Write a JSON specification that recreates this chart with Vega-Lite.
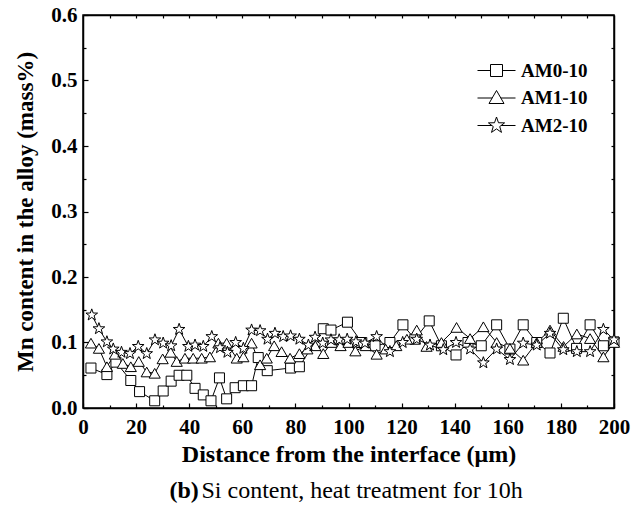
{
  "$schema": "https://vega.github.io/schema/vega-lite/v6.json",
  "width": 531,
  "height": 393,
  "autosize": {"type": "none"},
  "padding": {"left": 83, "top": 15, "right": 20, "bottom": 98},
  "background": "white",
  "config": {
    "view": {"stroke": "black", "strokeWidth": 1.5},
    "font": "Liberation Serif",
    "axis": {"grid": false, "domainColor": "black", "tickColor": "black", "labelColor": "black", "titleColor": "black", "domainWidth": 1.5, "tickWidth": 1.2}
  },
  "datasets": {
    "pts": [
      {"series": "AM0-10", "x": 3, "y": 0.061},
      {"series": "AM0-10", "x": 9, "y": 0.051},
      {"series": "AM0-10", "x": 12.4, "y": 0.07},
      {"series": "AM0-10", "x": 18, "y": 0.042},
      {"series": "AM0-10", "x": 21.3, "y": 0.025},
      {"series": "AM0-10", "x": 27, "y": 0.011},
      {"series": "AM0-10", "x": 30.2, "y": 0.026},
      {"series": "AM0-10", "x": 33.2, "y": 0.041},
      {"series": "AM0-10", "x": 36.2, "y": 0.05},
      {"series": "AM0-10", "x": 39.1, "y": 0.05},
      {"series": "AM0-10", "x": 42.2, "y": 0.03},
      {"series": "AM0-10", "x": 45.3, "y": 0.02},
      {"series": "AM0-10", "x": 48.2, "y": 0.011},
      {"series": "AM0-10", "x": 51.4, "y": 0.046},
      {"series": "AM0-10", "x": 54.1, "y": 0.014},
      {"series": "AM0-10", "x": 57.3, "y": 0.031},
      {"series": "AM0-10", "x": 60.4, "y": 0.034},
      {"series": "AM0-10", "x": 63.5, "y": 0.034},
      {"series": "AM0-10", "x": 66, "y": 0.077},
      {"series": "AM0-10", "x": 69.4, "y": 0.057},
      {"series": "AM0-10", "x": 78.2, "y": 0.061},
      {"series": "AM0-10", "x": 81.5, "y": 0.063},
      {"series": "AM0-10", "x": 90.5, "y": 0.121},
      {"series": "AM0-10", "x": 93.4, "y": 0.119},
      {"series": "AM0-10", "x": 99.6, "y": 0.131},
      {"series": "AM0-10", "x": 105, "y": 0.1},
      {"series": "AM0-10", "x": 110, "y": 0.095},
      {"series": "AM0-10", "x": 115.6, "y": 0.1},
      {"series": "AM0-10", "x": 120.5, "y": 0.127},
      {"series": "AM0-10", "x": 125, "y": 0.105},
      {"series": "AM0-10", "x": 130.4, "y": 0.133},
      {"series": "AM0-10", "x": 135, "y": 0.095},
      {"series": "AM0-10", "x": 140.5, "y": 0.081},
      {"series": "AM0-10", "x": 145, "y": 0.1},
      {"series": "AM0-10", "x": 150, "y": 0.095},
      {"series": "AM0-10", "x": 155.8, "y": 0.127},
      {"series": "AM0-10", "x": 160.8, "y": 0.09},
      {"series": "AM0-10", "x": 165.8, "y": 0.127},
      {"series": "AM0-10", "x": 170.9, "y": 0.1},
      {"series": "AM0-10", "x": 175.9, "y": 0.084},
      {"series": "AM0-10", "x": 180.9, "y": 0.137},
      {"series": "AM0-10", "x": 185.9, "y": 0.091},
      {"series": "AM0-10", "x": 191, "y": 0.127},
      {"series": "AM0-10", "x": 196, "y": 0.095},
      {"series": "AM0-10", "x": 200, "y": 0.101},
      {"series": "AM1-10", "x": 3, "y": 0.099},
      {"series": "AM1-10", "x": 6, "y": 0.091},
      {"series": "AM1-10", "x": 9, "y": 0.063},
      {"series": "AM1-10", "x": 12, "y": 0.082},
      {"series": "AM1-10", "x": 15, "y": 0.068},
      {"series": "AM1-10", "x": 18, "y": 0.063},
      {"series": "AM1-10", "x": 21, "y": 0.071},
      {"series": "AM1-10", "x": 24, "y": 0.055},
      {"series": "AM1-10", "x": 27, "y": 0.053},
      {"series": "AM1-10", "x": 30, "y": 0.075},
      {"series": "AM1-10", "x": 33, "y": 0.085},
      {"series": "AM1-10", "x": 35.3, "y": 0.071},
      {"series": "AM1-10", "x": 38.4, "y": 0.076},
      {"series": "AM1-10", "x": 41.5, "y": 0.076},
      {"series": "AM1-10", "x": 44.7, "y": 0.076},
      {"series": "AM1-10", "x": 47.8, "y": 0.078},
      {"series": "AM1-10", "x": 51, "y": 0.099},
      {"series": "AM1-10", "x": 54.1, "y": 0.099},
      {"series": "AM1-10", "x": 57.9, "y": 0.076},
      {"series": "AM1-10", "x": 60.4, "y": 0.078},
      {"series": "AM1-10", "x": 63.5, "y": 0.099},
      {"series": "AM1-10", "x": 66.7, "y": 0.066},
      {"series": "AM1-10", "x": 69.2, "y": 0.076},
      {"series": "AM1-10", "x": 72, "y": 0.095},
      {"series": "AM1-10", "x": 74.8, "y": 0.086},
      {"series": "AM1-10", "x": 78, "y": 0.076},
      {"series": "AM1-10", "x": 81.5, "y": 0.083},
      {"series": "AM1-10", "x": 84.5, "y": 0.09},
      {"series": "AM1-10", "x": 87.5, "y": 0.095},
      {"series": "AM1-10", "x": 90.5, "y": 0.083},
      {"series": "AM1-10", "x": 93.7, "y": 0.1},
      {"series": "AM1-10", "x": 97, "y": 0.095},
      {"series": "AM1-10", "x": 100, "y": 0.1},
      {"series": "AM1-10", "x": 102.6, "y": 0.087},
      {"series": "AM1-10", "x": 106.5, "y": 0.095},
      {"series": "AM1-10", "x": 110.6, "y": 0.082},
      {"series": "AM1-10", "x": 114, "y": 0.09},
      {"series": "AM1-10", "x": 118, "y": 0.095},
      {"series": "AM1-10", "x": 122, "y": 0.105},
      {"series": "AM1-10", "x": 125.7, "y": 0.119},
      {"series": "AM1-10", "x": 129.4, "y": 0.094},
      {"series": "AM1-10", "x": 135, "y": 0.1},
      {"series": "AM1-10", "x": 140.7, "y": 0.123},
      {"series": "AM1-10", "x": 145.8, "y": 0.106},
      {"series": "AM1-10", "x": 150.8, "y": 0.124},
      {"series": "AM1-10", "x": 155.8, "y": 0.1},
      {"series": "AM1-10", "x": 160.8, "y": 0.091},
      {"series": "AM1-10", "x": 165.8, "y": 0.073},
      {"series": "AM1-10", "x": 170.9, "y": 0.1},
      {"series": "AM1-10", "x": 175.9, "y": 0.119},
      {"series": "AM1-10", "x": 181, "y": 0.094},
      {"series": "AM1-10", "x": 186, "y": 0.113},
      {"series": "AM1-10", "x": 191, "y": 0.106},
      {"series": "AM1-10", "x": 196, "y": 0.078},
      {"series": "AM1-10", "x": 200, "y": 0.1},
      {"series": "AM2-10", "x": 3.3, "y": 0.142},
      {"series": "AM2-10", "x": 6, "y": 0.121},
      {"series": "AM2-10", "x": 9, "y": 0.101},
      {"series": "AM2-10", "x": 11.4, "y": 0.09},
      {"series": "AM2-10", "x": 14.5, "y": 0.085},
      {"series": "AM2-10", "x": 17.7, "y": 0.083},
      {"series": "AM2-10", "x": 20.8, "y": 0.094},
      {"series": "AM2-10", "x": 24, "y": 0.083},
      {"series": "AM2-10", "x": 27.1, "y": 0.104},
      {"series": "AM2-10", "x": 30.2, "y": 0.099},
      {"series": "AM2-10", "x": 33.2, "y": 0.095},
      {"series": "AM2-10", "x": 36.2, "y": 0.12},
      {"series": "AM2-10", "x": 39.7, "y": 0.094},
      {"series": "AM2-10", "x": 42.2, "y": 0.096},
      {"series": "AM2-10", "x": 45.3, "y": 0.094},
      {"series": "AM2-10", "x": 48.5, "y": 0.109},
      {"series": "AM2-10", "x": 51.6, "y": 0.092},
      {"series": "AM2-10", "x": 54.4, "y": 0.085},
      {"series": "AM2-10", "x": 57.5, "y": 0.1},
      {"series": "AM2-10", "x": 60.4, "y": 0.091},
      {"series": "AM2-10", "x": 63.5, "y": 0.119},
      {"series": "AM2-10", "x": 66.7, "y": 0.118},
      {"series": "AM2-10", "x": 69.5, "y": 0.105},
      {"series": "AM2-10", "x": 72.3, "y": 0.114},
      {"series": "AM2-10", "x": 75.4, "y": 0.109},
      {"series": "AM2-10", "x": 78.2, "y": 0.11},
      {"series": "AM2-10", "x": 81.5, "y": 0.105},
      {"series": "AM2-10", "x": 84.9, "y": 0.096},
      {"series": "AM2-10", "x": 87.4, "y": 0.108},
      {"series": "AM2-10", "x": 90.3, "y": 0.099},
      {"series": "AM2-10", "x": 93.4, "y": 0.104},
      {"series": "AM2-10", "x": 96.5, "y": 0.104},
      {"series": "AM2-10", "x": 99.5, "y": 0.105},
      {"series": "AM2-10", "x": 102.8, "y": 0.101},
      {"series": "AM2-10", "x": 106.2, "y": 0.099},
      {"series": "AM2-10", "x": 110.6, "y": 0.109},
      {"series": "AM2-10", "x": 115.6, "y": 0.086},
      {"series": "AM2-10", "x": 120.4, "y": 0.1},
      {"series": "AM2-10", "x": 125.7, "y": 0.105},
      {"series": "AM2-10", "x": 130.7, "y": 0.096},
      {"series": "AM2-10", "x": 135.7, "y": 0.089},
      {"series": "AM2-10", "x": 140.5, "y": 0.1},
      {"series": "AM2-10", "x": 145.8, "y": 0.09},
      {"series": "AM2-10", "x": 150.8, "y": 0.069},
      {"series": "AM2-10", "x": 155.8, "y": 0.09},
      {"series": "AM2-10", "x": 160.8, "y": 0.074},
      {"series": "AM2-10", "x": 165.8, "y": 0.099},
      {"series": "AM2-10", "x": 170.9, "y": 0.096},
      {"series": "AM2-10", "x": 175.9, "y": 0.114},
      {"series": "AM2-10", "x": 180.9, "y": 0.089},
      {"series": "AM2-10", "x": 186, "y": 0.086},
      {"series": "AM2-10", "x": 191, "y": 0.086},
      {"series": "AM2-10", "x": 196, "y": 0.12},
      {"series": "AM2-10", "x": 200, "y": 0.104}
    ]
  },
  "resolve": {"axis": {"x": "independent", "y": "independent"}, "scale": {"shape": "independent"}},
  "layer": [
    {
      "data": {"name": "pts"},
      "mark": {"type": "point", "filled": false, "color": "black", "strokeWidth": 1, "opacity": 0, "size": 400},
      "encoding": {
        "x": {"field": "x", "type": "quantitative", "scale": {"domain": [0, 200], "nice": false}, "axis": {"orient": "bottom", "values": [10, 30, 50, 70, 90, 110, 130, 150, 170, 190], "tickSize": -3, "labels": false, "domain": false,
          "title": "Si content, heat treatment for 10h", "titleFont": "Liberation Serif", "titleFontSize": 24, "titleFontWeight": "normal", "titleAlign": "left", "titleBaseline": "alphabetic", "titleX": 118, "titleY": 89, "titleAngle": 0}},
        "y": {"field": "y", "type": "quantitative", "scale": {"domain": [0, 0.6], "nice": false}, "axis": {"orient": "left", "values": [0.05, 0.15, 0.25, 0.35, 0.45, 0.55], "tickSize": -3, "labels": false, "domain": false, "title": null}},
        "shape": {"field": "series", "type": "nominal",
          "scale": {"domain": ["AM0-10", "AM1-10", "AM2-10"],
            "range": [
              "M-1.9,0L-0.6,0M0.6,0L1.9,0M-0.6,-0.6L0.6,-0.6L0.6,0.6L-0.6,0.6Z",
              "M-1.9,0L-0.43,0M0.43,0L1.9,0M0,-0.75L0.75,0.55L-0.75,0.55Z",
              "M-1.9,0L-0.46,0M0.46,0L1.9,0M0,-0.85L0.2,-0.275L0.8084,-0.2627L0.3233,0.1051L0.4996,0.6877L0,0.34L-0.4996,0.6877L-0.3233,0.1051L-0.8084,-0.2627L-0.2,-0.275Z"
            ]},
          "legend": {"orient": "none", "legendX": 403, "legendY": 45, "title": null, "padding": 0, "rowPadding": 6.5, "labelOffset": 14,
            "labelFont": "Liberation Serif", "labelFontSize": 19, "labelFontWeight": "bold", "labelColor": "black",
            "symbolStrokeColor": "black", "symbolStrokeWidth": 1, "symbolOpacity": 1, "symbolSize": 400}
        }
      }
    },
    {
      "data": {"name": "pts"},
      "mark": {"type": "line", "stroke": "black", "strokeWidth": 1},
      "encoding": {
        "x": {"field": "x", "type": "quantitative", "axis": {"orient": "top", "values": [10, 20, 30, 40, 50, 60, 70, 80, 90, 100, 110, 120, 130, 140, 150, 160, 170, 180, 190], "tickSize": -3, "labels": false,
          "title": "(b)", "titleFont": "Liberation Serif", "titleFontSize": 24, "titleFontWeight": "bold", "titleAlign": "left", "titleBaseline": "alphabetic", "titleX": 86, "titleY": 482, "titleAngle": 0}},
        "y": {"field": "y", "type": "quantitative", "axis": {"orient": "right", "values": [0.05, 0.1, 0.15, 0.2, 0.25, 0.3, 0.35, 0.4, 0.45, 0.5, 0.55], "tickSize": -3, "labels": false, "title": null}},
        "detail": {"field": "series", "type": "nominal"}
      }
    },
    {
      "data": {"name": "pts"},
      "mark": {"type": "point", "filled": true, "fill": "white", "stroke": "black", "strokeWidth": 1, "opacity": 1},
      "encoding": {
        "x": {"field": "x", "type": "quantitative",
          "axis": {"orient": "bottom", "values": [0, 20, 40, 60, 80, 100, 120, 140, 160, 180, 200], "tickSize": -5, "labelFontSize": 21, "labelFontWeight": "bold", "labelFont": "Liberation Serif", "labelPadding": 13, "labelFlush": false, "labelOverlap": false,
            "title": "Distance from the interface (μm)", "titleFontSize": 24, "titleFontWeight": "bold", "titleFont": "Liberation Serif", "titlePadding": 5}},
        "y": {"field": "y", "type": "quantitative",
          "axis": {"orient": "left", "values": [0, 0.1, 0.2, 0.3, 0.4, 0.5, 0.6], "format": ".1f", "tickSize": -5, "labelFontSize": 21, "labelFontWeight": "bold", "labelFont": "Liberation Serif", "labelPadding": 11, "labelFlush": false, "labelOverlap": false,
            "title": "Mn content in the alloy (mass%)", "titleFontSize": 23, "titleFontWeight": "bold", "titleFont": "Liberation Serif", "titlePadding": 13}},
        "shape": {"field": "series", "type": "nominal", "scale": {"domain": ["AM0-10", "AM1-10", "AM2-10"], "range": ["square", "triangle-up", "M0,-1L0.2351,-0.3236L0.9511,-0.309L0.3804,0.1236L0.5878,0.809L0,0.4L-0.5878,0.809L-0.3804,0.1236L-0.9511,-0.309L-0.2351,-0.3236Z"]}, "legend": null},
        "size": {"field": "series", "type": "nominal", "scale": {"domain": ["AM0-10", "AM1-10", "AM2-10"], "range": [100, 150, 130]}, "legend": null}
      }
    }
  ]
}
